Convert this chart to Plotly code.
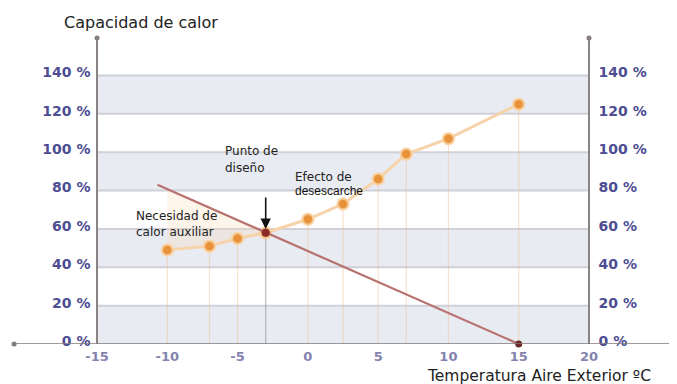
import numpy as np
import plotly.graph_objects as go

# ---- data ----
temp = [-10, -7, -5, -3, 0, 2.5, 5, 7, 10, 15]
capacidad = [49, 51, 55, 58, 65, 73, 86, 99, 107, 125]
demanda_x = [-10.7, 15]
demanda_y = [83, 0]
punto_diseno_x = [-3]
punto_diseno_y = [58]
x_ticks = [-15, -10, -5, 0, 5, 10, 15, 20]
x_ticktext = ["-15", "-10", "-5", "0", "5", "10", "15", "20"]
y_ticks = [0, 20, 40, 60, 80, 100, 120, 140]
y_ticktext = ["0 %", "20 %", "40 %", "60 %", "80 %", "100 %", "120 %", "140 %"]
bands = [(0, 20), (40, 60), (80, 100), (120, 140)]

XR = [-21.05, 26.12]
YR = [0, 160]
XL, XRgt = -15, 20


def px(xd):
    return (xd - XR[0]) / (XR[1] - XR[0])


def py(yd):
    return (yd - YR[0]) / (YR[1] - YR[0])


fig = go.Figure()

shapes = []
for b0, b1 in bands:
    shapes.append(dict(type="rect", xref="x", yref="y", x0=XL, x1=XRgt, y0=b0, y1=b1,
                       fillcolor="#e8ebf1", line=dict(width=0), layer="below"))
for v in y_ticks[1:]:
    shapes.append(dict(type="line", xref="x", yref="y", x0=XL, x1=XRgt, y0=v, y1=v,
                       line=dict(color="#d0d0d8", width=2), layer="below"))
# vertical drop lines
for tx, cy in zip(temp, capacidad):
    col = "rgba(120,120,130,0.5)" if tx == punto_diseno_x[0] else "rgba(238,190,145,0.45)"
    shapes.append(dict(type="line", xref="x", yref="y", x0=tx, x1=tx, y0=0, y1=cy,
                       line=dict(color=col, width=1.2), layer="below"))
# x axis line
shapes.append(dict(type="line", xref="x", yref="y", x0=XR[0], x1=XR[1], y0=0, y1=0,
                   line=dict(color="#857a7a", width=1.6)))
fig.update_layout(shapes=shapes)

# shaded auxiliary-heat zone
mask = [t <= punto_diseno_x[0] for t in temp]
fx = [t for t, m in zip(temp, mask) if m]
fy = [c for c, m in zip(capacidad, mask) if m]
red_at = list(np.interp(fx, demanda_x, demanda_y))
fig.add_trace(go.Scatter(x=fx + fx[::-1], y=fy + red_at[::-1], fill="toself",
                         fillcolor="rgba(250,218,185,0.3)", line=dict(width=0),
                         mode="lines", hoverinfo="skip", showlegend=False))

# capacity curve
fig.add_trace(go.Scatter(x=temp, y=capacidad, mode="lines",
                         line=dict(color="#f6d3aa", width=3), showlegend=False))
fig.add_trace(go.Scatter(x=temp, y=capacidad, mode="markers",
                         marker=dict(size=11, color="#e8923c",
                                     line=dict(color="rgba(250,210,160,0.8)", width=2.5)),
                         showlegend=False))
# demand line
fig.add_trace(go.Scatter(x=demanda_x, y=demanda_y, mode="lines",
                         line=dict(color="#b7716f", width=2.2), showlegend=False))
fig.add_trace(go.Scatter(x=[demanda_x[-1]], y=[demanda_y[-1]], mode="markers",
                         marker=dict(size=7, color="#6e2a2a"), showlegend=False, cliponaxis=False))
fig.add_trace(go.Scatter(x=punto_diseno_x, y=punto_diseno_y, mode="markers",
                         marker=dict(size=8, color="#8a2d2a"), showlegend=False))
# axis end dots
fig.add_trace(go.Scatter(x=[XR[0] + 0.15, XL, XRgt], y=[0, YR[1] - 0.5, YR[1] - 0.5], mode="markers",
                         marker=dict(size=5, color="#857a7a"), showlegend=False, cliponaxis=False))

tickfont_y = dict(family="DejaVu Sans", size=14, color="#4d4d92", weight="bold")
tickfont_x = dict(family="DejaVu Sans", size=13, color="#8383ad", weight="bold")

# page body has an 8px margin: compensate in the figure margins
fig.update_layout(
    width=677, height=384,
    margin=dict(l=4, r=10, t=29, b=48),
    paper_bgcolor="white", plot_bgcolor="white",
    xaxis=dict(range=XR, tickvals=x_ticks, ticktext=x_ticktext, showgrid=False,
               zeroline=False, showline=False, ticks="", tickfont=tickfont_x,
               ticklabelstandoff=3, fixedrange=True),
    yaxis=dict(range=YR, tickvals=y_ticks, ticktext=y_ticktext, showgrid=False,
               zeroline=False, showline=True, linecolor="#8a8383", linewidth=1.6,
               anchor="free", position=px(XL),
               ticks="", tickfont=tickfont_y, ticklabelstandoff=3, ticklabelshift=-3),
    yaxis2=dict(range=YR, tickvals=y_ticks, ticktext=y_ticktext, showgrid=False,
                zeroline=False, showline=True, linecolor="#8a8383", linewidth=1.6,
                anchor="free", position=px(XRgt),
                overlaying="y", side="right", ticks="", tickfont=tickfont_y,
                ticklabelstandoff=6, ticklabelshift=-3),
)
fig.add_trace(go.Scatter(x=[None], y=[None], yaxis="y2", showlegend=False))

txt = dict(family="DejaVu Sans", size=12, color="#222222")
big = dict(family="DejaVu Sans", size=16, color="#222222")
ann = [
    dict(text="Capacidad de calor", x=px(-17.5), y=py(167.8), font=big),
    dict(text="Temperatura Aire Exterior ºC", x=px(8.3), y=py(-16.6),
         font=dict(family="DejaVu Sans", size=15.5, color="#222222")),
    dict(text="Punto de", x=px(-6.05), y=py(100.5), font=txt),
    dict(text="diseño", x=px(-6.05), y=py(91.5), font=txt),
    dict(text="Efecto de", x=px(-1.05), y=py(87.0), font=txt),
    dict(text="desescarche", x=px(-1.05), y=py(79.7),
         font=dict(family="Liberation Sans", size=12, color="#111111")),
    dict(text="Necesidad de", x=px(-12.35), y=py(66.7), font=txt),
    dict(text="calor auxiliar", x=px(-12.35), y=py(58.4), font=txt),
]
for a in ann:
    a.update(xref="paper", yref="paper", showarrow=False, xanchor="left", yanchor="middle")
ann.append(dict(x=punto_diseno_x[0], y=punto_diseno_y[0] + 2, xref="x", yref="y",
                ax=0, ay=-33, text="", showarrow=True, arrowhead=2, arrowsize=1.3,
                arrowwidth=1.6, arrowcolor="#111111"))
fig.update_layout(annotations=ann)

fig.write_html("out.html")
